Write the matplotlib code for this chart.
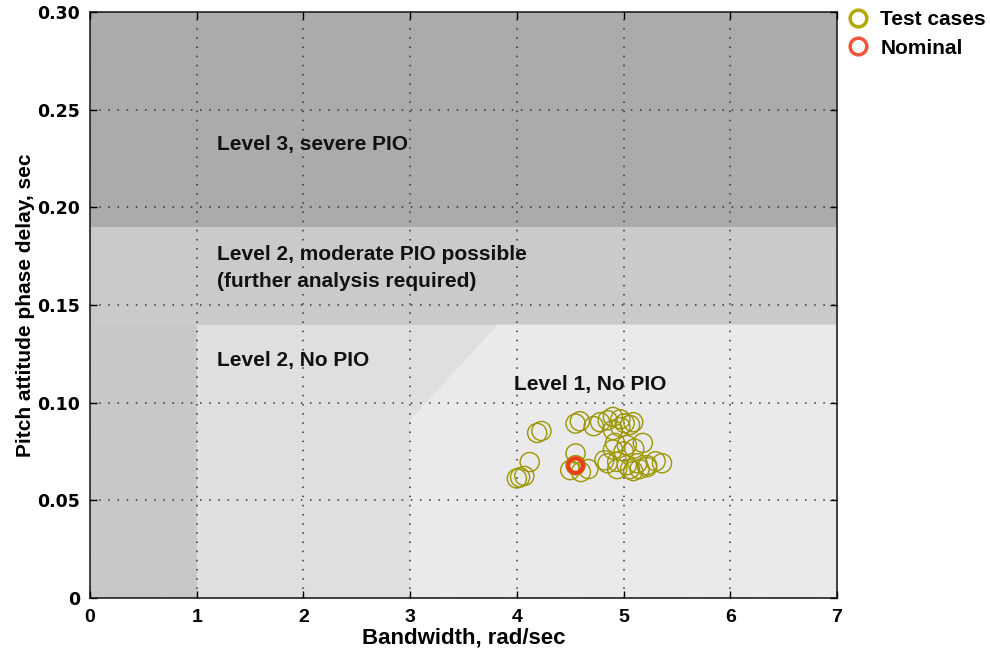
import matplotlib
matplotlib.use("Agg")
import matplotlib.pyplot as plt
from matplotlib.patches import Polygon, Rectangle
from matplotlib.lines import Line2D

# Handling-quality boundaries (bandwidth rad/sec, phase delay sec)
x_min, x_max = 0, 7
y_min, y_max = 0, 0.30
level3_delay = 0.19
level2_delay = 0.14
low_bw_limit = 1.0
level1_bw = 3.0
diag_low_delay = 0.091
diag_top_bw = 3.82

# Test case results
test_bw = [4.19, 4.23, 4.12, 4.03, 4.07, 4.00, 4.55, 4.59, 4.55, 4.50,
           4.60, 4.67, 4.78, 4.85, 4.90, 4.97, 5.01, 5.09, 4.72, 4.90,
           4.97, 5.06, 4.92, 5.03, 5.18, 4.90, 5.00, 5.10, 4.85, 4.94,
           5.03, 5.13, 5.22, 5.36, 4.94, 5.06, 5.15, 5.22, 5.09, 4.55,
           5.30, 4.82]
test_delay = [0.0845, 0.0855, 0.0696, 0.0618, 0.0625, 0.0612, 0.0893, 0.0905,
              0.0740, 0.0655, 0.0645, 0.0660, 0.0900, 0.0910, 0.0927, 0.0915,
              0.0895, 0.0900, 0.0880, 0.0860, 0.0875, 0.0886, 0.0794, 0.0783,
              0.0794, 0.0760, 0.0750, 0.0765, 0.0690, 0.0697, 0.0680, 0.0690,
              0.0680, 0.0690, 0.0660, 0.0660, 0.0660, 0.0670, 0.0650, 0.0680,
              0.0700, 0.0705]
nominal_bw = [4.55]
nominal_delay = [0.0678]

x_ticks = [0, 1, 2, 3, 4, 5, 6, 7]
y_ticks = [0, 0.05, 0.10, 0.15, 0.20, 0.25, 0.30]
y_tick_labels = ["0", "0.05", "0.10", "0.15", "0.20", "0.25", "0.30"]

fig = plt.figure(figsize=(9.9, 6.55), dpi=100)
ax = fig.add_axes([0.0909, 0.087, 0.7546, 0.8947])
ax.set_xlim(x_min, x_max)
ax.set_ylim(y_min, y_max)

# Region shading
ax.add_patch(Rectangle((x_min, level3_delay), x_max - x_min, y_max - level3_delay,
                       facecolor="#ababab", edgecolor="none", zorder=0))
ax.add_patch(Rectangle((x_min, level2_delay), x_max - x_min, level3_delay - level2_delay,
                       facecolor="#cacaca", edgecolor="none", zorder=0))
ax.add_patch(Rectangle((x_min, y_min), low_bw_limit - x_min, level2_delay - y_min,
                       facecolor="#c8c8c8", edgecolor="none", zorder=0))
ax.add_patch(Rectangle((low_bw_limit, y_min), x_max - low_bw_limit, level2_delay - y_min,
                       facecolor="#dfdfdf", edgecolor="none", zorder=0))
ax.add_patch(Polygon([(level1_bw, y_min), (level1_bw, diag_low_delay),
                      (diag_top_bw, level2_delay), (x_max, level2_delay), (x_max, y_min)],
                     closed=True, facecolor="#eaeaec", edgecolor="none", zorder=0))

# Grid
ax.set_xticks(x_ticks)
ax.set_yticks(y_ticks)
ax.set_yticklabels(y_tick_labels)
ax.grid(True, color="#333333", linestyle=(0, (1, 5)), linewidth=1.1)
ax.set_axisbelow(False)
ax.tick_params(direction="in", length=5, width=1, top=True, right=True, pad=7)
ax.tick_params(axis="x", pad=8)
for lbl in ax.get_xticklabels():
    lbl.set_fontweight("bold")
    lbl.set_family("Liberation Sans")
    lbl.set_fontsize(14)
for lbl in ax.get_yticklabels():
    lbl.set_fontweight("bold")
    lbl.set_family("DejaVu Sans")
    lbl.set_fontsize(12.5)
for s in ax.spines.values():
    s.set_linewidth(1.2)
    s.set_color("#222222")

# Region labels
label_kw = dict(fontsize=15, fontweight="bold", family="Liberation Sans",
                va="center", ha="left", color="#111111")
ax.text(1.19, 0.232, "Level 3, severe PIO", **label_kw)
ax.text(1.19, 0.1756, "Level 2, moderate PIO possible", **label_kw)
ax.text(1.19, 0.1622, "(further analysis required)", **label_kw)
ax.text(1.19, 0.1215, "Level 2, No PIO", **label_kw)
ax.text(3.97, 0.1095, "Level 1, No PIO", **label_kw)

# Data
ax.scatter(test_bw, test_delay, s=190, facecolors="none", edgecolors="#9c9600",
           linewidths=1.0, zorder=3)
ax.scatter(nominal_bw, nominal_delay, s=110, facecolors="none", edgecolors="#f03c14",
           linewidths=3.0, zorder=4)

ax.set_xlabel("Bandwidth, rad/sec", fontsize=16, fontweight="bold",
              family="Liberation Sans", labelpad=1)
ax.set_ylabel("Pitch attitude phase delay, sec", fontsize=15, fontweight="bold",
              family="Liberation Sans", labelpad=2)

handles = [
    Line2D([], [], linestyle="none", marker="o", markersize=12, markerfacecolor="none",
           markeredgecolor="#b3a800", markeredgewidth=2.5, label="Test cases"),
    Line2D([], [], linestyle="none", marker="o", markersize=12, markerfacecolor="none",
           markeredgecolor="#f2543c", markeredgewidth=2.5, label="Nominal"),
]
fig.legend(handles=handles, loc="upper left", bbox_to_anchor=(0.846, 1.0),
           frameon=False, prop=dict(size=15, weight="bold", family="Liberation Sans"),
           handletextpad=0.55, labelspacing=0.45, borderaxespad=0.1, handlelength=1.0)

fig.savefig("out.png", dpi=100)
